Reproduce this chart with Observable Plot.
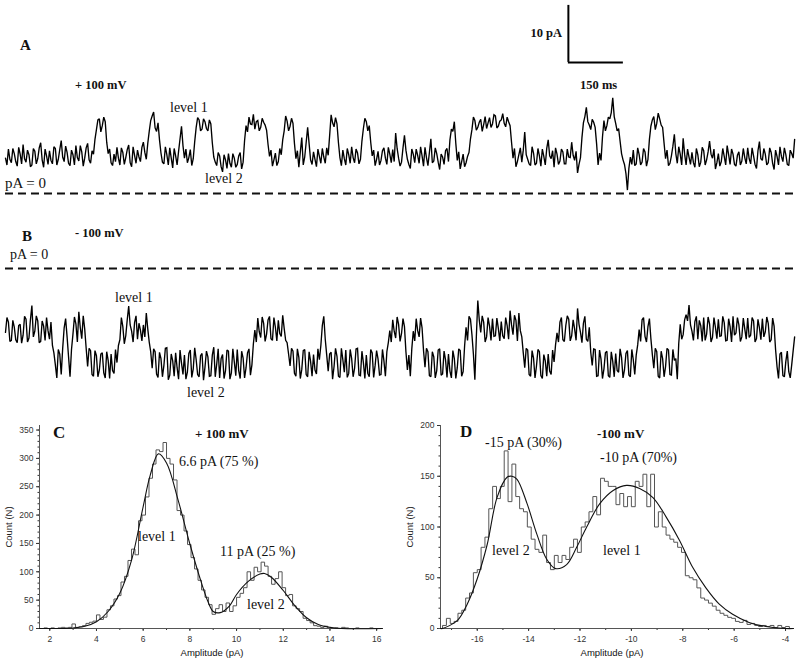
<!DOCTYPE html>
<html><head><meta charset="utf-8">
<script src="https://cdn.jsdelivr.net/npm/d3@7"></script>
<script src="https://cdn.jsdelivr.net/npm/@observablehq/plot@0.6"></script>
<style>
body{margin:0;background:#fff;}
#fig{position:relative;width:800px;height:663px;overflow:hidden;background:#fff}
#fig svg{position:absolute;}
</style></head><body><div id="fig"></div>
<script>
// ---------- DATA ----------
// current traces (pA): samples every 8 ms, plus the in-between samples (at +4 ms)
const sampleMs = 8;
const traceA = [
6.2,7.8,5.4,7.0,4.8,6.9,8.6,5.5,6.8,5.0,7.4,6.1,8.9,4.6,6.6,7.5,5.2,7.9,6.0,9.3,5.6,7.2,4.9,6.8,8.4,5.7,7.3,6.2,8.8,5.3,6.9,
11.2,13.1,11.9,12.6,
7.0,5.4,6.9,8.1,5.0,7.2,6.3,8.5,4.7,6.7,7.6,5.6,9.0,6.0,
10.9,13.6,11.5,12.4,
7.1,5.2,6.8,8.0,4.5,6.6,7.4,11.8,6.2,5.4,7.7,6.1,
11.6,12.9,11.3,12.6,11.0,12.2,
6.4,4.9,6.6,3.8,5.9,7.0,4.6,6.2,5.1,7.2,5.5,
11.9,13.4,12.1,11.3,12.8,11.6,12.5,11.1,
6.5,4.8,7.1,5.6,6.8,
11.0,12.7,11.8,12.3,
6.1,4.6,9.8,6.4,
11.6,
5.9,7.3,4.7,6.5,7.9,5.3,6.7,
13.8,11.7,12.2,
6.3,7.6,5.0,6.8,8.2,5.4,7.1,6.0,
11.4,12.6,11.9,
6.6,4.9,7.4,5.8,8.0,5.1,6.9,7.7,10.6,6.2,5.5,10.2,6.0,4.4,6.9,7.8,5.3,6.6,8.1,4.9,9.6,5.7,7.0,4.2,6.4,7.5,5.6,
11.3,12.6,
5.8,4.3,6.9,5.4,7.2,
11.2,12.8,11.6,13.0,12.1,11.4,13.3,12.2,13.6,11.8,12.9,12.3,13.4,11.9,
6.2,4.7,6.8,5.5,10.8,6.0,4.9,7.1,5.3,6.6,7.8,5.0,9.4,6.1,4.6,6.9,5.7,7.3,5.2,6.4,9.0,5.8,3.6,6.3,
12.4,15.1,12.0,13.0,11.6,
5.0,5.8,
12.8,11.9,13.1,16.8,12.3,11.4,
7.0,5.1,0.6,6.4,7.6,5.2,6.8,5.5,7.3,6.0,
11.8,13.5,12.3,13.1,11.6,
6.1,4.9,6.6,10.4,5.3,6.9,9.7,5.0,6.4,7.2,4.6,6.8,5.5,7.5,5.9,9.2,6.2,4.3,7.0,5.6,6.5,8.4,5.1,6.9,4.8,7.3,5.7,6.3,8.0,5.2,6.6,4.4,9.1,5.8,6.9,5.4,7.2,4.2,6.5,8.2,5.6,6.8,4.9,7.0,9.5
];
const traceAMid = [
5.0,6.0,7.9,5.6,8.1,5.2,6.1,7.6,4.7,7.9,5.2,8.0,5.9,7.8,5.1,5.8,8.2,5.0,7.7,6.4,8.3,5.3,7.6,5.0,6.3,8.4,4.8,8.0,5.9,7.5,
9.5,12.9,10.8,13.4,9.0,
7.8,4.9,5.6,6.2,8.0,5.1,7.7,5.4,8.2,5.3,6.4,8.1,7.2,
8.8,12.8,14.3,10.9,9.4,
5.5,8.2,5.0,6.2,7.9,5.0,9.6,8.4,7.8,6.3,4.9,
9.1,13.3,11.0,13.1,11.4,12.9,8.9,
5.5,7.2,4.7,6.8,4.4,5.3,7.0,4.6,6.6,4.3,
9.3,10.8,12.2,13.9,12.6,11.0,13.2,12.0,8.6,
7.6,5.9,4.9,7.9,
9.4,13.6,11.0,13.2,8.8,
7.5,7.3,5.0,
9.0,8.7,
5.1,6.0,7.8,5.3,6.4,8.0,
10.2,12.4,13.3,8.9,
4.9,6.1,7.9,5.3,6.3,7.8,5.2,
9.2,13.2,11.0,9.0,
7.6,6.0,5.0,7.5,6.2,8.1,5.4,5.6,7.9,4.8,8.0,7.6,5.1,7.8,5.4,6.7,8.2,4.8,6.3,7.2,5.4,8.0,5.5,6.9,5.1,7.9,
9.4,10.9,8.8,
7.3,5.6,4.7,6.5,
9.6,13.4,11.1,12.5,10.9,13.5,12.4,11.6,13.8,11.5,12.7,14.0,11.7,12.6,9.0,
7.9,5.6,8.0,7.6,6.8,5.2,8.2,5.0,7.9,4.8,6.5,7.9,6.6,7.5,8.0,5.1,7.8,5.2,7.8,6.3,6.7,7.4,5.1,
9.8,13.5,12.6,11.2,12.5,8.7,
7.1,
9.9,11.0,13.4,14.2,13.5,11.0,9.2,
5.9,3.5,4.4,5.1,4.9,8.0,5.0,7.9,4.8,
9.5,12.9,11.2,14.1,12.0,8.8,
7.6,5.3,8.3,7.0,8.2,5.0,6.9,7.8,5.1,5.4,7.9,4.7,8.1,5.0,7.3,6.9,7.8,5.4,4.8,7.9,5.0,6.8,7.8,5.1,6.7,5.0,7.9,5.2,6.1,8.0,5.1,7.5,6.1,7.9,5.0,8.0,5.3,7.6,5.0,6.5,8.0,5.1,7.6,6.2
];
const traceB = [
-11.2,-9.4,-12.6,-10.3,-13.0,-9.8,-11.7,-8.9,-12.2,-6.5,-11.0,-9.2,-12.8,-10.1,-8.6,-12.4,-13.5,
-16.9,-14.2,-18.6,
-10.4,-12.0,
-19.0,
-11.5,-9.7,-7.6,-12.3,-10.6,
-17.2,-14.4,-18.9,-15.3,-17.8,-14.8,-19.2,-16.1,-15.0,-18.4,-16.5,
-12.5,-10.2,-11.8,-6.6,-11.0,-9.5,-12.4,-10.8,-9.9,-7.8,-12.9,
-17.5,-14.6,-19.1,-15.8,-17.0,-13.9,-18.7,-16.2,-14.8,-19.4,-16.6,-15.2,-18.2,-14.3,-17.6,-16.0,-19.0,-14.9,-17.3,-15.5,-18.8,-13.8,-16.8,-19.2,-15.1,-17.9,-14.5,-18.3,-16.4,-14.2,-19.3,-15.7,-17.4,-14.1,-16.9,
-10.8,-8.7,-12.1,-9.6,-11.5,-8.4,-12.6,-10.3,-9.1,-11.9,-10.5,-13.0,
-17.1,-14.5,-18.9,-15.6,-17.7,-14.2,-19.0,-16.3,-15.1,-18.5,-16.0,
-10.0,-12.4,
-18.0,-14.7,-17.2,-15.4,-19.1,-16.0,-14.3,-18.4,-15.8,-17.5,-14.0,-18.8,-16.5,-15.2,-19.0,-14.8,-17.0,-15.9,-18.6,-16.2,-14.6,
-10.9,-9.0,-12.2,-9.8,-11.4,-10.2,
-17.8,-18.9,
-11.0,-8.8,-12.0,-10.4,
-17.3,-14.6,-19.0,-15.5,-17.9,-14.1,-18.5,-16.0,-15.0,-19.2,-15.8,-17.4,-14.4,-18.1,
-10.3,-8.4,-11.6,
-19.5,
-5.6,-11.2,-9.4,-12.0,-10.1,-8.8,-11.8,-10.5,-9.3,-12.3,-10.0,-7.4,-11.6,-9.1,-7.8,-12.0,
-17.4,-14.3,-18.9,-15.7,-17.1,-14.6,-19.3,-16.2,-15.0,-18.6,-16.4,
-11.3,-9.4,-12.5,-10.0,-8.9,-11.8,-10.6,-7.0,-11.2,-9.6,-12.4,-10.3,
-17.0,-14.2,-18.8,-15.9,-17.6,-14.5,-19.1,-16.3,-14.9,-18.2,-15.6,-17.8,-14.4,-19.0,-16.0,-15.2,
-10.7,-9.0,-11.9,-10.2,-12.3,
-17.5,-14.6,-19.2,-15.8,-17.2,-14.3,-18.7,-16.1,-19.4,
-9.8,-11.6,-8.1,-6.4,-11.0,-9.3,-12.4,-10.0,-8.6,-11.5,-9.7,-12.1,-10.3,-8.9,-11.8,-9.5,-12.6,-10.2,-8.4,-11.3,-9.9,-12.0,-10.6,-8.7,-11.7,-9.2,-12.3,-10.4,-8.8,-11.1,-9.6,-12.5,-10.1,
-17.2,-15.0,-18.8,-16.3,-18.1,-16.9,
-12.0
];
const traceBMid = [
-8.6,-12.8,-9.1,-12.5,-10.0,-13.1,-8.4,-12.9,-9.0,-12.0,-8.3,-13.0,-9.2,-12.6,-10.9,-9.4,
-14.8,-19.2,-15.0,-14.0,-8.8,-15.5,-14.2,
-8.5,-12.9,-10.4,-8.3,-14.0,
-14.0,-18.6,-14.4,-19.0,-15.0,-18.3,-14.6,-19.3,-17.9,-14.2,-13.5,
-8.6,-13.2,-9.0,-9.9,-12.9,-8.3,-9.6,-12.7,-12.0,-10.6,-14.6,
-14.1,-18.5,-14.7,-19.0,-14.0,-19.5,-15.0,-18.9,-17.4,-14.3,-18.6,-19.4,-14.9,-19.1,-13.9,-18.6,-15.3,-19.6,-14.5,-18.9,-15.2,-19.0,-14.1,-15.8,-19.3,-14.3,-19.4,-14.1,-18.8,-17.9,-14.5,-19.2,-14.8,-18.7,
-13.2,
-12.9,-11.1,-8.5,-12.8,-9.0,-12.3,-8.6,-12.7,-11.4,-8.2,-12.6,-15.0,
-14.0,-18.4,-14.1,-19.3,-14.4,-18.6,-14.6,-18.9,-17.8,-14.1,-13.5,
-8.4,-15.2,
-15.0,-19.4,-14.0,-18.9,-14.0,-18.2,-19.1,-14.2,-19.0,-14.1,-18.7,-14.5,-19.3,-18.4,-14.2,-19.1,-14.4,-18.7,-14.2,-18.9,-13.0,
-12.9,-11.0,-8.5,-12.8,-8.8,-14.6,-15.2,-14.1,
-12.7,-10.9,-8.7,-14.4,
-14.0,-18.8,-14.6,-19.2,-14.3,-18.7,-14.5,-19.1,-18.0,-14.4,-19.3,-14.1,-18.9,-13.6,
-12.6,-8.9,-15.0,-12.0,
-9.0,-8.3,-12.9,-8.6,-12.6,-11.9,-8.7,-12.7,-11.8,-8.6,-12.4,-9.9,-8.2,-12.7,-10.9,-14.8,
-14.0,-18.6,-14.4,-19.2,-14.2,-18.8,-15.1,-18.9,-18.0,-14.3,-13.4,
-12.9,-8.6,-12.8,-8.3,-12.7,-9.0,-12.6,-9.8,-13.0,-8.4,-12.8,-14.7,
-14.1,-18.9,-14.3,-19.3,-14.8,-18.8,-14.6,-19.0,-17.9,-14.1,-19.2,-14.9,-18.7,-14.2,-18.6,-13.4,
-12.8,-8.6,-12.9,-8.8,-15.1,
-14.0,-18.9,-14.5,-19.0,-14.0,-18.6,-14.2,-15.8,-13.1,
-12.4,-9.0,-9.2,-9.9,-12.6,-8.4,-9.1,-12.8,-12.6,-8.5,-12.9,-8.6,-12.3,-11.9,-8.4,-12.7,-8.8,-12.9,-11.7,-8.6,-12.8,-8.7,-12.4,-12.1,-8.6,-12.9,-8.9,-12.5,-12.0,-8.5,-12.9,-8.7,-14.2,
-19.3,-14.7,-19.0,-14.5,-19.2,-14.4
];
// scale bar: 10 pA / 150 ms
const scaleBarAmp = 10, scaleBarMs = 150, scaleBarAtMs = 1535, scaleBarAtPA = 23;

// histogram C (+100 mV): bins of 0.15 pA starting at 1.6 pA
const histCStart = 1.6, histCBin = 0.15;
const histCCounts = [
0,1,0,1,0,1,2,1,2,8, 2,3,5,9,11,13,24,16,20,33,
40,52,58,82,92,120,140,130,190,200, 232,265,290,315,312,328,300,290,262,208,
200,172,148,125,105,85,68,55,42,25, 35,42,30,45,30,40,55,62,72,100,
85,108,100,117,110,92,78,88,100,72, 58,60,40,35,30,18,14,10,5,4,
2,4,1,0,1,0,2,1,0,0, 1,0,0,0,1,0,0
];
const fitCx = [1.56,2.5,3,3.5,4,4.5,5,5.5,6,6.3,6.65,7,7.5,8,8.5,8.8,9,9.3,9.7,10,10.5,11,11.2,11.5,12,12.5,13,13.5,14,14.5,16.25];
const fitCy = [0,0,1,4,12,30,62,120,215,270,308,292,226,149,80,45,30,28,40,60,83,96,97,90,67,40,19,7,2,0,0];

// histogram D (-100 mV): bins of 0.15 pA starting at -17.5 pA
const histDStart = -17.5, histDBin = 0.15;
const histDCounts = [
0,3,10,5,7,15,18,30,35,55, 58,80,90,118,140,128,140,175,125,162,
130,118,115,100,88,78,75,92,65,58, 72,65,72,68,80,88,75,100,105,115,
130,112,148,145,140,140,122,133,120,130, 120,145,140,152,120,152,100,115,100,92,
88,85,80,75,52,50,48,40,30,28, 25,22,18,15,13,11,10,7,6,8,
4,5,3,2,3,2,3,1,3,1, 2,0
];
const fitDx = [-17.43,-17.35,-16.77,-16.39,-16.0,-15.61,-15.23,-14.84,-14.65,-14.45,-14.06,-13.68,-13.29,-12.95,-12.52,-12.13,-11.74,-11.23,-10.71,-10.19,-9.68,-9.16,-8.65,-8.13,-7.61,-7.10,-6.58,-6.06,-5.42,-4.77,-4.0,-3.69];
const fitDy = [0,0,8,24,49,83,129,149,150,147,123,93,68,59,63,80,100,123,136,141,138,129,110,87,60,40,24,14,6,2,0,0];

const xTicksC = [2,4,6,8,10,12,14,16];
const yTicksC = [0,50,100,150,200,250,300,350];
const xTicksD = [-16,-14,-12,-10,-8,-6,-4];
const yTicksD = [0,50,100,150,200];

// ---------- DRAW ----------
const fig = document.getElementById("fig");
function place(node, left, top){ node.style.left = left+"px"; node.style.top = top+"px"; fig.appendChild(node); }

const serif = "'Liberation Serif','Times New Roman',serif";
const sans = "'Liberation Sans',Arial,sans-serif";
const tDomain = [-13.6, 2168];
const traceEnd = (traceA.length-1)*sampleMs;

function tracePlot(values, mids, yDomain, height, bar){
  const pts = [];
  values.forEach((v,i)=>{
    pts.push({t:i*sampleMs, pA:v});
    if (i < mids.length) pts.push({t:i*sampleMs+sampleMs/2, pA:mids[i]});
  });
  const marks = [
    Plot.ruleY([0], {x1:0, x2:traceEnd, stroke:"#111", strokeWidth:2.2, strokeDasharray:"8,5"}),
    Plot.line(pts, {x:"t", y:"pA", stroke:"#000", strokeWidth:1.35, strokeLinejoin:"miter", strokeMiterlimit:2})
  ];
  if (bar) {
    const b = [{t:scaleBarAtMs, pA:scaleBarAtPA}];
    marks.push(Plot.ruleX(b, {x:"t", y1:"pA", y2:d=>d.pA+scaleBarAmp, stroke:"#000", strokeWidth:2}));
    marks.push(Plot.ruleY(b, {y:"pA", x1:"t", x2:d=>d.t+scaleBarMs, stroke:"#000", strokeWidth:2}));
  }
  return Plot.plot({width:800, height, margin:0,
    x:{domain:tDomain, axis:null}, y:{domain:yDomain, axis:null},
    style:{background:"transparent", overflow:"visible"}, marks});
}
place(tracePlot(traceA, traceAMid, [-1.23, 33.86], 200, true), 0, 0);
place(tracePlot(traceB, traceBMid, [-21.4, 11.93], 190, false), 0, 200);

function histPlot(o){
  const steps = o.counts.map((c,k)=>({x:o.start+k*o.bin, y:c}));
  steps.push({x:o.start+o.counts.length*o.bin, y:o.counts[o.counts.length-1]});
  const fit = o.fx.map((x,k)=>({x, y:o.fy[k]}));
  return Plot.plot({width:400, height:248,
    marginLeft:o.ml, marginRight:o.mr, marginTop:10, marginBottom:35,
    x:{domain:o.xd}, y:{domain:o.yd},
    style:{fontFamily:sans, fontSize:"8.5px", color:"#333", background:"transparent", overflow:"visible"},
    marks:[
      Plot.axisX({ticks:o.xt, tickSize:3, tickPadding:4, label:null, tickFormat:d=>String(d)}),
      Plot.axisX({ticks:o.xm, tickSize:2, label:null, tickFormat:()=>""}),
      Plot.axisY({ticks:o.yt, tickSize:3, tickPadding:3, label:null, tickFormat:d=>String(d)}),
      Plot.axisY({ticks:o.ym, tickSize:1.5, label:null, tickFormat:()=>""}),
      Plot.ruleX([o.xd[0]], {stroke:"#555", strokeWidth:1}),
      Plot.ruleY([o.yd[0]], {stroke:"#555", strokeWidth:1}),
      Plot.line(steps, {x:"x", y:"y", curve:"step-after", stroke:"#555", strokeWidth:1}),
      Plot.line(fit, {x:"x", y:"y", curve:"catmull-rom", stroke:"#111", strokeWidth:1.1})
    ]});
}
place(histPlot({counts:histCCounts, start:histCStart, bin:histCBin, fx:fitCx, fy:fitCy,
  xd:[1.56,16.25], yd:[0,358], xt:xTicksC, xm:d3.range(2,17,1), yt:yTicksC, ym:d3.range(0,351,10), ml:39, mr:18}), 0, 415);
place(histPlot({counts:histDCounts, start:histDStart, bin:histDBin, fx:fitDx, fy:fitDy,
  xd:[-17.43,-3.69], yd:[0,200], xt:xTicksD, xm:d3.range(-17,-3,1), yt:yTicksD, ym:d3.range(0,201,10), ml:40, mr:7}), 400, 415);

// ---------- TEXT ANNOTATIONS ----------
const notes = [
  ["A",20,50,15,"bold",serif],
  ["10 pA",562,37,12.5,"bold",serif,"end"],
  ["150 ms",580,89,12.5,"bold",serif],
  ["+ 100 mV",75,89,12.5,"bold",serif],
  ["level 1",170,112,14,"normal",serif],
  ["level 2",205,183,14,"normal",serif],
  ["pA = 0",5,188,15,"normal",serif],
  ["B",22,241,15,"bold",serif],
  ["- 100 mV",75,237,12.5,"bold",serif],
  ["pA = 0",10,259,14,"normal",serif],
  ["level 1",115,302,14,"normal",serif],
  ["level 2",187,397,14,"normal",serif],
  ["C",53,438,17,"bold",serif],
  ["+ 100 mV",195,438,13,"bold",serif],
  ["6.6 pA (75 %)",179,466,14,"normal",serif],
  ["level 1",138,541,14,"normal",serif],
  ["11 pA (25 %)",220,556,14,"normal",serif],
  ["level 2",247,609,14,"normal",serif],
  ["Amplitude (pA)",212,656,9.5,"normal",sans,"middle"],
  ["D",460,437,17,"bold",serif],
  ["-100 mV",597,438,13,"bold",serif],
  ["-15 pA (30%)",485,447,14,"normal",serif],
  ["-10 pA (70%)",600,462,14,"normal",serif],
  ["level 2",492,555,14,"normal",serif],
  ["level 1",603,555,14,"normal",serif],
  ["Amplitude (pA)",612,656,9.5,"normal",sans,"middle"]
];
const ov = d3.create("svg").attr("width",800).attr("height",663).style("left","0px").style("top","0px").style("pointer-events","none");
ov.selectAll("text.n").data(notes).join("text").attr("class","n")
  .attr("x",d=>d[1]).attr("y",d=>d[2]).attr("font-size",d=>d[3]).attr("font-weight",d=>d[4])
  .attr("font-family",d=>d[5]).attr("text-anchor",d=>d[6]||"start").attr("fill","#111").text(d=>d[0]);
[[9,527],[410,527]].forEach(([x,y])=>{
  ov.append("text").attr("transform",`translate(${x},${y}) rotate(-90)`).attr("text-anchor","middle")
    .attr("dy","0.35em").attr("font-family",sans).attr("font-size",9.5).attr("fill","#222").text("Count (N)");
});
fig.appendChild(ov.node());
</script></body></html>
